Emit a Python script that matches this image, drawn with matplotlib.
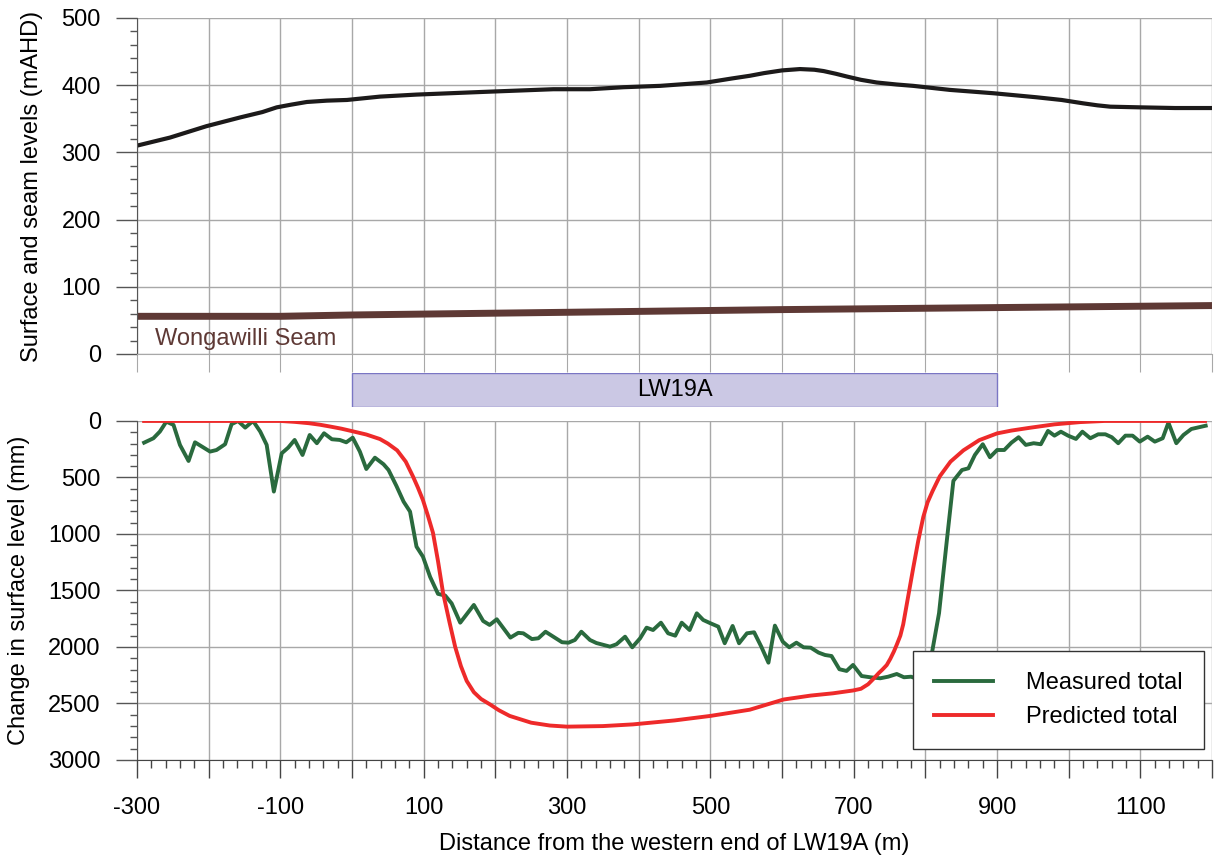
import numpy as np
import matplotlib
matplotlib.use("Agg")
import matplotlib.pyplot as plt
from matplotlib.patches import Rectangle
from matplotlib.ticker import MultipleLocator, FuncFormatter

plt.rcParams['font.family'] = ['Liberation Sans', 'DejaVu Sans']

# -----------------------------
# Surface and seam levels (mAHD)
# -----------------------------
surf_x = [-300, -254, -203, -156, -125, -105, -85, -63, -35, -7, 39, 90, 183, 281, 332,
          379, 430, 495, 530, 555, 575, 600, 625, 645, 658, 675, 690, 710, 732, 760,
          783, 834, 895, 955, 990, 1020, 1040, 1058, 1100, 1148, 1200]
surf_y = [310, 322, 339, 352, 360, 367, 371, 375, 377, 378, 383, 386, 390, 394, 394,
          397, 399, 404, 410, 414, 418, 422, 424, 423, 421, 417, 413, 408, 404, 401,
          399, 393, 388, 382, 378, 373, 370, 368, 367, 366, 366]

seam_x = [-300, -100, 0, 300, 600, 900, 1200]
seam_y = [56, 56, 58, 62, 66, 69, 72]

# -----------------------------
# Measured total subsidence (mm)
# -----------------------------
meas_x = [-290, -277, -268, -259, -249, -240, -228, -219, -198, -189, -177, -168, -159,
          -149, -138, -128, -119, -109, -98, -89, -80, -69, -59, -49, -39, -28, -17, -8,
          1, 11, 20, 32, 44, 51, 62, 72, 81, 90, 99, 109, 120, 130, 139, 151, 170, 183,
          192, 202, 221, 232, 239, 251, 260, 270, 281, 293, 302, 311, 320, 332, 341, 351,
          360, 369, 381, 391, 402, 411, 420, 431, 441, 451, 460, 471, 481, 490, 500, 511,
          520, 531, 540, 551, 561, 571, 581, 590, 601, 610, 620, 630, 640, 651, 660, 669,
          680, 690, 699, 711, 723, 737, 748, 760, 770, 780, 790, 800, 809, 819, 830, 839,
          851, 860, 869, 880, 890, 900, 910, 920, 930, 940, 951, 961, 971, 980, 989, 999,
          1010, 1019, 1030, 1041, 1051, 1060, 1069, 1079, 1089, 1099, 1110, 1120, 1131,
          1139, 1150, 1160, 1171, 1191]
meas_y = [192, 153, 94, 6, 35, 212, 354, 189, 271, 257, 206, 29, 0,
          59, 0, 94, 212, 625, 286, 236, 168, 301, 124, 197, 109, 162, 168, 189,
          148, 271, 425, 325, 383, 434, 575, 714, 802, 1112, 1201, 1380, 1530, 1545, 1614, 1785, 1628, 1770,
          1805, 1755, 1917, 1875, 1879, 1930, 1923, 1865, 1909, 1958, 1962, 1938, 1865, 1938, 1965, 1982,
          1997, 1976, 1909, 2003, 1923, 1829, 1850, 1785, 1879, 1900, 1785, 1850, 1702, 1761, 1790, 1820,
          1967, 1814, 1967, 1879, 1870, 1997, 2139, 1811, 1953, 2003, 1962, 2003, 2006, 2050, 2071, 2080,
          2197, 2212, 2159, 2257, 2268, 2277, 2263, 2239, 2268, 2263, 2286, 2233, 2056, 1700, 1050, 530,
          434, 419, 301, 206, 321, 257, 257, 192, 144, 212, 197, 206, 88, 130, 95, 130,
          159, 95, 153, 118, 118, 144, 197, 130, 130, 183, 139, 183, 153,
          15, 197, 124, 71, 42]

# -----------------------------
# Predicted total subsidence (mm)
# -----------------------------
pred_x = [-290, -200, -150, -100, -80, -60, -45, -30, -15, 0, 20, 39, 50, 63, 75, 85, 92, 99,
          106, 113, 120, 127, 136, 144, 152, 160, 170, 180, 193, 205, 220, 250, 276, 300,
          350, 392, 450, 500, 555, 602, 640, 671, 699, 710, 720, 727, 735, 740, 746, 751,
          756, 760, 765, 769, 776, 783, 790, 797, 803, 810, 820, 835, 853, 875, 900, 920,
          946, 980, 1016, 1050, 1190]
pred_y = [0, 0, 0, 0, 8, 20, 33, 50, 68, 90, 120, 160, 200, 260, 360, 490, 590, 700,
          840, 990, 1240, 1520, 1780, 2000, 2170, 2300, 2400, 2460, 2510, 2560, 2610, 2670, 2695, 2705,
          2700, 2685, 2650, 2610, 2555, 2465, 2430, 2410, 2385, 2370, 2330, 2285, 2230, 2200, 2160, 2105,
          2040, 1980, 1900, 1800, 1550, 1300, 1060, 850, 720, 620, 490, 360, 260, 170, 110, 85,
          60, 30, 10, 0, 0]

panel_label = "LW19A"
panel_start, panel_end = 0, 900

grid_c = "#a8a8a8"
fs = 17

fig = plt.figure(figsize=(12.26, 8.57), dpi=100)
ax1 = fig.add_axes([0.1117, 0.587, 0.877, 0.392])
axm = fig.add_axes([0.1117, 0.5251, 0.877, 0.0397], sharex=ax1)
ax2 = fig.add_axes([0.1117, 0.1132, 0.877, 0.3956], sharex=ax1)

# ---- top panel ----
ax1.plot(surf_x, surf_y, color="#1c1a1a", lw=3, solid_joinstyle="round")
ax1.plot(seam_x, seam_y, color="#5e3935", lw=5, solid_capstyle="butt")
ax1.text(-275, 22, "Wongawilli Seam", color="#5e3935", fontsize=fs, va="center")
ax1.set_ylim(0, 500)
ax1.yaxis.set_major_locator(MultipleLocator(100))
ax1.yaxis.set_minor_locator(MultipleLocator(20))
ax1.set_ylabel("Surface and seam levels (mAHD)", fontsize=fs)
ax1.yaxis.set_label_coords(-0.087, 0.5)
for s in ["top", "right"]:
    ax1.spines[s].set_visible(False)
ax1.spines["bottom"].set_color(grid_c)
ax1.tick_params(axis="x", which="both", length=13, color=grid_c, labelbottom=False)
ax1.tick_params(axis="x", which="minor", length=0)

# ---- panel box ----
axm.add_patch(Rectangle((panel_start, 0), panel_end - panel_start, 1,
                        facecolor="#cbc8e4", edgecolor="#7a76c4", lw=1))
axm.text((panel_start + panel_end) / 2, 0.5, panel_label, ha="center", va="center",
         fontsize=fs)
axm.set_ylim(0, 1)
axm.axis("off")

# ---- bottom panel ----
ax2.plot(meas_x, meas_y, color="#2a6a3e", lw=2.8, label="Measured total",
         solid_joinstyle="round")
ax2.plot(pred_x, pred_y, color="#ee2a2a", lw=2.8, label="Predicted total",
         solid_joinstyle="round")
ax2.set_ylim(3000, 0)
ax2.yaxis.set_major_locator(MultipleLocator(500))
ax2.yaxis.set_minor_locator(MultipleLocator(100))
ax2.set_ylabel("Change in surface level (mm)", fontsize=fs)
ax2.yaxis.set_label_coords(-0.0995, 0.5)
ax2.set_xlabel("Distance from the western end of LW19A (m)", fontsize=fs, labelpad=10)
for s in ["top", "right"]:
    ax2.spines[s].set_visible(False)
ax2.spines["bottom"].set_color("#444444")
leg = ax2.legend(loc="lower right", bbox_to_anchor=(0.9926, 0.032), fontsize=fs,
                 fancybox=False, framealpha=1, edgecolor="#333333", borderaxespad=0,
                 handlelength=2.5, borderpad=0.9, labelspacing=0.5, handletextpad=1.4)
leg.get_frame().set_linewidth(1.0)

ax1.set_xlim(-300, 1200)
ax1.xaxis.set_major_locator(MultipleLocator(100))
ax1.xaxis.set_minor_locator(MultipleLocator(20))
ax2.xaxis.set_major_formatter(FuncFormatter(
    lambda v, p: f"{int(round(v))}" if int(round(v)) % 200 != 0 else ""))

for ax in (ax1, ax2):
    ax.grid(True, which="major", color=grid_c, lw=1)
    ax.set_axisbelow(True)
    ax.spines["left"].set_color("#555555")
    ax.tick_params(axis="y", which="major", length=15, width=1, color="#555555",
                   labelsize=fs, pad=11)
    ax.tick_params(axis="y", which="minor", length=5, width=1, color="#555555")
ax2.tick_params(axis="x", which="major", length=13, width=1, color="#444444",
                labelsize=fs, pad=14)
ax2.tick_params(axis="x", which="minor", length=6, width=1, color="#444444")

fig.savefig("out.png", dpi=100)
